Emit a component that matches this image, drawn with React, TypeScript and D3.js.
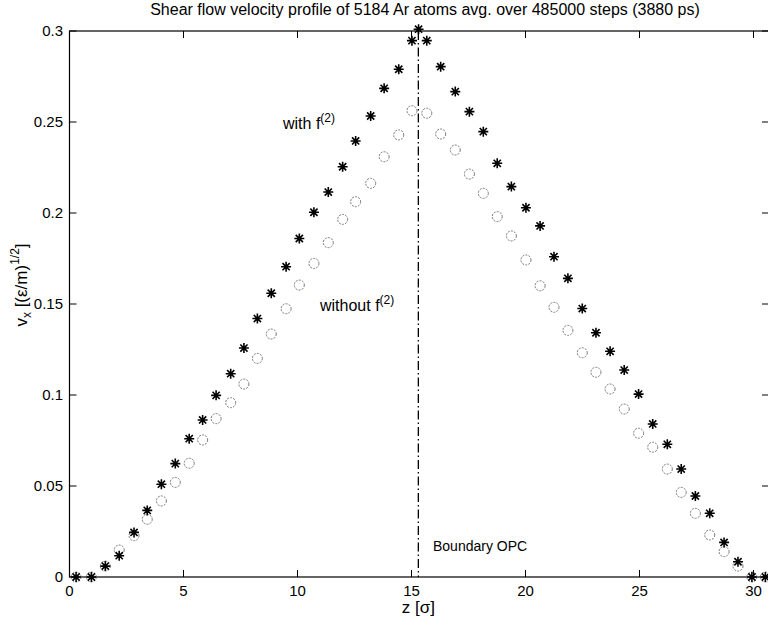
import React from "react";
import * as d3 from "d3";

const W = 768;
const H = 623;

// bin centres along z [sigma]
const zBins = [
  0.29, 0.96, 1.57, 2.18, 2.83, 3.41, 4.03, 4.64, 5.25, 5.84,
  6.43, 7.07, 7.65, 8.24, 8.85, 9.5, 10.08, 10.72, 11.35, 11.98,
  12.55, 13.21, 13.8, 14.44, 15.02, 15.67, 16.28, 16.92, 17.54, 18.15,
  18.76, 19.38, 20.02, 20.64, 21.25, 21.86, 22.49, 23.09, 23.71, 24.33,
  24.96, 25.58, 26.22, 26.83, 27.45, 28.08, 28.71, 29.32, 29.93, 30.52,
];

// v_x with f(2)  (asterisks)
const vWith = [
  0, 0, 0.006, 0.0117, 0.0245, 0.0366, 0.051, 0.0623, 0.076, 0.0863,
  0.0998, 0.1117, 0.1258, 0.142, 0.1559, 0.1705, 0.186, 0.2004, 0.2115, 0.2254,
  0.2396, 0.2533, 0.2685, 0.279, 0.2947, 0.2947, 0.2804, 0.2667, 0.2557, 0.2447,
  0.2273, 0.2145, 0.2029, 0.1929, 0.176, 0.1641, 0.1475, 0.1342, 0.124, 0.1137,
  0.1005, 0.0841, 0.0729, 0.0593, 0.0445, 0.035, 0.019, 0.0084, 0, 0,
];

// v_x without f(2)  (circles)
const vWithout = [
  0, 0, 0.006, 0.0148, 0.0227, 0.0317, 0.0418, 0.052, 0.0625, 0.0753,
  0.087, 0.0958, 0.106, 0.1201, 0.1335, 0.1474, 0.1604, 0.1723, 0.1837, 0.1965,
  0.2062, 0.2163, 0.2309, 0.2429, 0.2562, 0.2548, 0.2434, 0.2346, 0.2214, 0.2108,
  0.198, 0.1874, 0.1742, 0.16, 0.1482, 0.1355, 0.1232, 0.1125, 0.1033, 0.0923,
  0.079, 0.0713, 0.0593, 0.0465, 0.035, 0.0231, 0.0139, 0.006, 0, 0,
];

// extra asterisk sitting on the boundary
const peakZ = [15.31];
const peakV = [0.301];

const boundaryZ = 15.3;

const xTicks = [0, 5, 10, 15, 20, 25, 30];
const yTicks = [0, 0.05, 0.1, 0.15, 0.2, 0.25, 0.3];
const yTickLabels = ["0", "0.05", "0.1", "0.15", "0.2", "0.25", "0.3"];

const FONT = "'Liberation Sans', Arial, Helvetica, sans-serif";

const left = 69.5;
const top = 31;
const bottom = 577;
const right = 769;

const x = d3.scaleLinear().domain([0, 30]).range([left, left + 30 * 22.8]);
const y = d3.scaleLinear().domain([0, 0.3]).range([bottom, top]);

const star = (cx: number, cy: number, r: number) => {
  const d = r * 0.72;
  return `M${cx - r},${cy}H${cx + r}M${cx},${cy - r}V${cy + r}` +
    `M${cx - d},${cy - d}L${cx + d},${cy + d}M${cx - d},${cy + d}L${cx + d},${cy - d}`;
};

export default function App() {
  const tick = 7;
  return (
    <svg
      width={W}
      height={H}
      style={{ position: "absolute", left: 0, top: 0, background: "#fff" }}
      fontFamily={FONT}
    >
      <rect width={W} height={H} fill="#fff" />

      {/* title */}
      <text x={425} y={15} fontSize={16} textAnchor="middle">
        Shear flow velocity profile of 5184 Ar atoms avg. over 485000 steps (3880 ps)
      </text>

      {/* box */}
      <rect x={left} y={top} width={right - left} height={bottom - top} fill="none" stroke="#000" strokeWidth={1.2} />

      {xTicks.map((t) => (
        <g key={"x" + t}>
          <line x1={x(t)} x2={x(t)} y1={bottom} y2={bottom - tick} stroke="#000" />
          <line x1={x(t)} x2={x(t)} y1={top} y2={top + tick} stroke="#000" />
          <text x={x(t)} y={596} fontSize={15} textAnchor="middle">{t}</text>
        </g>
      ))}
      {yTicks.map((t, i) => (
        <g key={"y" + t}>
          <line x1={left} x2={left + tick} y1={y(t)} y2={y(t)} stroke="#000" />
          <line x1={right} x2={right - tick} y1={y(t)} y2={y(t)} stroke="#000" />
          <text x={63} y={y(t)} dy="0.35em" fontSize={15} textAnchor="end">{yTickLabels[i]}</text>
        </g>
      ))}

      {/* axis labels */}
      <text x={x(15.3)} y={613} fontSize={17} textAnchor="middle">z [σ]</text>
      <text transform="translate(27,285) rotate(-90)" fontSize={17} textAnchor="middle">
        v<tspan fontSize={12} dy={4}>x</tspan>
        <tspan dy={-4}> [(ε/m)</tspan>
        <tspan fontSize={12} dy={-8}>1/2</tspan>
        <tspan dy={8}>]</tspan>
      </text>

      {/* boundary line */}
      <line
        x1={x(boundaryZ)}
        x2={x(boundaryZ)}
        y1={top}
        y2={bottom}
        stroke="#000"
        strokeWidth={1.3}
        strokeDasharray="9,3,1.5,3"
      />
      <text x={433} y={551} fontSize={14}>Boundary OPC</text>

      {/* circles: without f(2) */}
      {zBins.map((z, i) => (
        <circle
          key={"c" + i}
          cx={x(z)}
          cy={y(vWithout[i])}
          r={5}
          fill="none"
          stroke="#777"
          strokeWidth={1}
          strokeDasharray="2,1.2"
        />
      ))}

      {/* asterisks: with f(2) */}
      {zBins.map((z, i) => (
        <path key={"s" + i} d={star(x(z), y(vWith[i]), 5)} stroke="#000" strokeWidth={1.6} fill="none" />
      ))}
      {peakZ.map((z, i) => (
        <path key={"p" + i} d={star(x(z), y(peakV[i]), 5)} stroke="#000" strokeWidth={1.6} fill="none" />
      ))}

      {/* annotations */}
      <text x={283} y={129} fontSize={16}>
        with f<tspan fontSize={12} dy={-7}>(2)</tspan>
      </text>
      <text x={320} y={311} fontSize={16}>
        without f<tspan fontSize={12} dy={-7}>(2)</tspan>
      </text>
    </svg>
  );
}
